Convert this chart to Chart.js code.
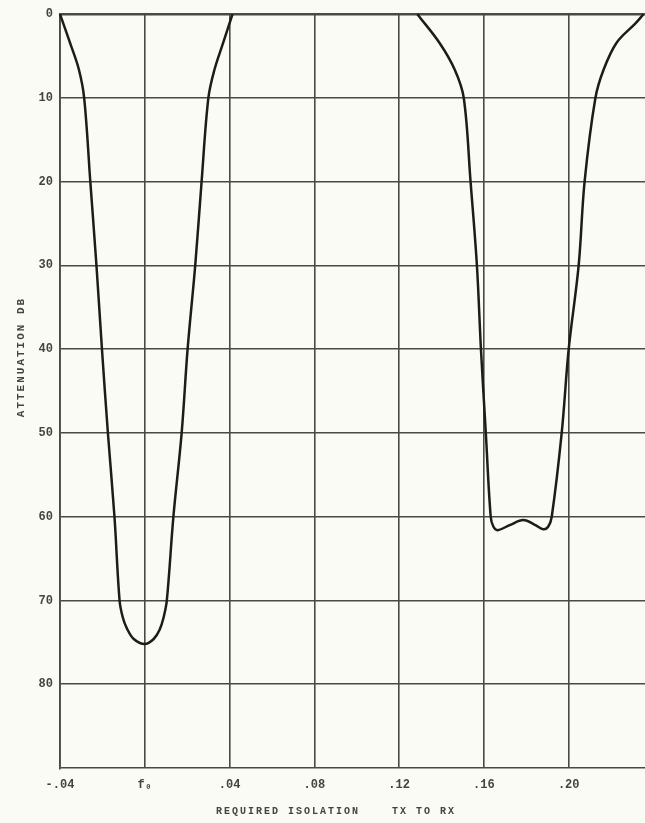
<!DOCTYPE html>
<html>
<head>
<meta charset="utf-8">
<script src="https://cdn.jsdelivr.net/npm/chart.js@4/dist/chart.umd.min.js"></script>
<style>
  html, body { margin: 0; padding: 0; background: #fbfbf5; }
</style>
</head>
<body>
<canvas id="attenuation-chart" width="645" height="823"></canvas>
<script>
// frequency offset from f0 and attenuation (dB);
// null marks the stretch along 0 dB between the two notches
const freqOffsets = [
  -0.04, -0.0353, -0.0311, -0.0286, -0.0257, -0.0228, -0.0202, -0.0174, -0.0143,
  -0.0119, -0.0104, -0.0085, -0.0052, 0, 0.0042, 0.007, 0.0089, 0.0104,
  0.0135, 0.0174, 0.0202, 0.0238, 0.0268, 0.03, 0.0329, 0.037, 0.0414,
  0.085,
  0.1286, 0.139, 0.1462, 0.1505, 0.1537, 0.1567, 0.1586, 0.1609, 0.1632,
  0.1645, 0.1665, 0.1722, 0.1786, 0.1843, 0.188, 0.1903, 0.192,
  0.1967, 0.2, 0.2047, 0.2075, 0.2126, 0.2165, 0.2226, 0.2315, 0.2353
];
const attenuationDb = [
  0, 3.4, 6.6, 10, 20, 30, 40, 50, 60,
  70, 72, 73.3, 74.6, 75.2, 74.6, 73.5, 72, 70,
  60, 50, 40, 30, 20, 10, 6.6, 3.4, 0,
  null,
  0, 3.4, 6.6, 10, 20, 30, 40, 50, 60,
  61.2, 61.6, 61.0, 60.4, 61.0, 61.5, 61.2, 60,
  50, 40, 30, 20, 10, 6.6, 3.4, 1.1, 0
];

const xTickValues = [-0.04, 0, 0.04, 0.08, 0.12, 0.16, 0.20];
const xTickLabels = ["-.04", "f\u2080", ".04", ".08", ".12", ".16", ".20"];
const yTickValues = [0, 10, 20, 30, 40, 50, 60, 70, 80, 90];
const yTickLabels = ["0", "10", "20", "30", "40", "50", "60", "70", "80", ""];

const xTitle = "REQUIRED ISOLATION    TX TO RX";
const yTitle = "ATTENUATION DB";

const inkColor = "#45453c";
const gridColor = "#4a4a40";
const tickFont = { family: "'Liberation Mono', monospace", size: 12, weight: "bold" };

// axis titles are drawn by hand to get the letter spacing of the typewritten original
const axisTitles = {
  id: "axisTitles",
  afterDraw(chart) {
    const ctx = chart.ctx;
    ctx.save();
    ctx.fillStyle = inkColor;
    ctx.textAlign = "center";
    ctx.textBaseline = "middle";
    ctx.font = "bold 10px 'Liberation Mono', monospace";
    ctx.letterSpacing = "2px";
    ctx.fillText(xTitle, 336, 811);
    ctx.font = "bold 11px 'Liberation Mono', monospace";
    ctx.translate(21, 357);
    ctx.rotate(-Math.PI / 2);
    ctx.fillText(yTitle, 0, 0);
    ctx.restore();
  }
};

const points = freqOffsets.map((x, i) => ({ x: x, y: attenuationDb[i] }));

new Chart("attenuation-chart", {
  type: "scatter",
  data: {
    datasets: [
      {
        data: points,
        showLine: true,
        spanGaps: false,
        borderColor: "#1c1c18",
        borderWidth: 2.5,
        pointRadius: 0,
        tension: 0.35,
        clip: 4,
      },
    ],
  },
  options: {
    responsive: false,
    animation: false,
    layout: { padding: { top: 14, right: 0, left: 0, bottom: 0 } },
    plugins: {
      legend: { display: false },
      tooltip: { enabled: false },
    },
    scales: {
      x: {
        type: "linear",
        min: -0.04,
        max: 0.236,
        afterBuildTicks: (axis) => {
          axis.ticks = xTickValues.map((v) => ({ value: v }));
        },
        afterFit: (axis) => {
          axis.height = 55;
        },
        ticks: {
          color: inkColor,
          font: tickFont,
          padding: 10,
          maxRotation: 0,
          autoSkip: false,
          callback: (value, index) => xTickLabels[index],
        },
        grid: { color: gridColor, lineWidth: 1.6, drawTicks: false },
        border: { display: false },
      },
      y: {
        type: "linear",
        reverse: true,
        min: 0,
        max: 90,
        afterBuildTicks: (axis) => {
          axis.ticks = yTickValues.map((v) => ({ value: v }));
        },
        afterFit: (axis) => {
          axis.width = 60;
        },
        ticks: {
          color: inkColor,
          font: tickFont,
          padding: 7,
          autoSkip: false,
          callback: (value, index) => yTickLabels[index],
        },
        grid: {
          color: gridColor,
          lineWidth: (c) => (c.tick && c.tick.value === 0 ? 2.4 : 1.6),
          drawTicks: false,
        },
        border: { display: true, color: gridColor, width: 1.8 },
      },
    },
  },
  plugins: [axisTitles],
});
</script>
</body>
</html>
